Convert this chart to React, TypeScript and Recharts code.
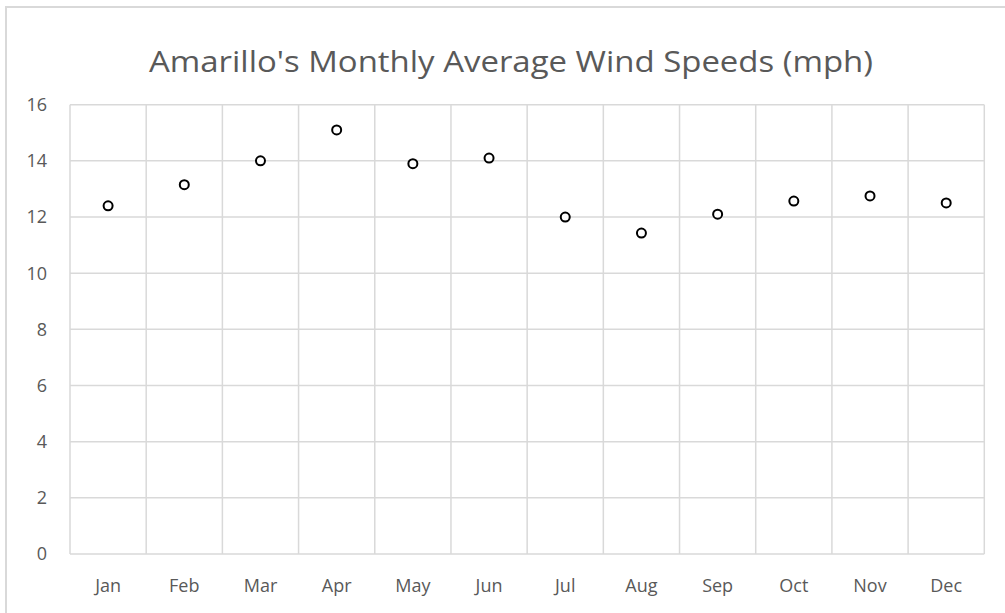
import React from "react";
import { LineChart, Line, XAxis, YAxis, CartesianGrid } from "recharts";

const months = ["Jan", "Feb", "Mar", "Apr", "May", "Jun", "Jul", "Aug", "Sep", "Oct", "Nov", "Dec"];
const windSpeeds = [12.4, 13.15, 14.0, 15.1, 13.9, 14.1, 12.0, 11.43, 12.1, 12.57, 12.75, 12.5];
const yTicks = [0, 2, 4, 6, 8, 10, 12, 14, 16];
const title = "Amarillo's Monthly Average Wind Speeds (mph)";

const data = months.map((m, i) => ({ month: m, speed: windSpeeds[i] }));

const W = 1005;
const H = 613;
const FONT = "'Open Sans', 'Noto Sans', sans-serif";
const TXT = "#595959";
const GRID = "#d9d9d9";
const PLOT_W = W - 20.7 - 70;
const HALF_BAND = PLOT_W / months.length / 2;

export default function App() {
  return (
    <div style={{ position: "fixed", left: 0, top: 0, width: W, height: H, background: "#fff", overflow: "hidden" }}>
      <div
        style={{
          position: "absolute",
          left: 5,
          top: 6,
          width: W + 20,
          height: H + 20,
          borderLeft: `2px solid ${GRID}`,
          borderTop: `2px solid ${GRID}`,
          boxSizing: "border-box",
        }}
      />
      <svg width={W} height={100} style={{ position: "absolute", left: 0, top: 0 }}>
        <text
          x={511}
          y={72}
          textAnchor="middle"
          fill={TXT}
          fontFamily={FONT}
          fontSize={29}
          textLength={724}
          lengthAdjust="spacingAndGlyphs"
        >
          {title}
        </text>
      </svg>
      <div style={{ position: "absolute", left: 0, top: 0 }}>
        <LineChart
          width={W}
          height={H}
          data={data}
          margin={{ top: 104.7, right: 20.7, bottom: 0, left: 20 }}
        >
          <CartesianGrid
            stroke={GRID}
            strokeWidth={1.5}
            verticalCoordinatesGenerator={({ offset }: any) =>
              Array.from({ length: months.length + 1 }, (_, i) => offset.left + (offset.width * i) / months.length)
            }
          />
          <XAxis
            dataKey="month"
            axisLine={false}
            tickLine={false}
            tickSize={0}
            tickMargin={25}
            height={59}
            interval={0}
            padding={{ left: HALF_BAND, right: HALF_BAND }}
            tick={{ fill: TXT, fontSize: 18, fontFamily: FONT }}
          />
          <YAxis
            domain={[0, 16]}
            ticks={yTicks}
            axisLine={false}
            tickLine={false}
            tickSize={0}
            tickMargin={23}
            width={50}
            interval={0}
            tick={{ fill: TXT, fontSize: 18, fontFamily: FONT }}
          />
          <Line
            dataKey="speed"
            stroke="none"
            isAnimationActive={false}
            dot={{ r: 4.5, stroke: "#000", strokeWidth: 2, fill: "#fff" }}
            activeDot={false}
          />
        </LineChart>
      </div>
    </div>
  );
}
